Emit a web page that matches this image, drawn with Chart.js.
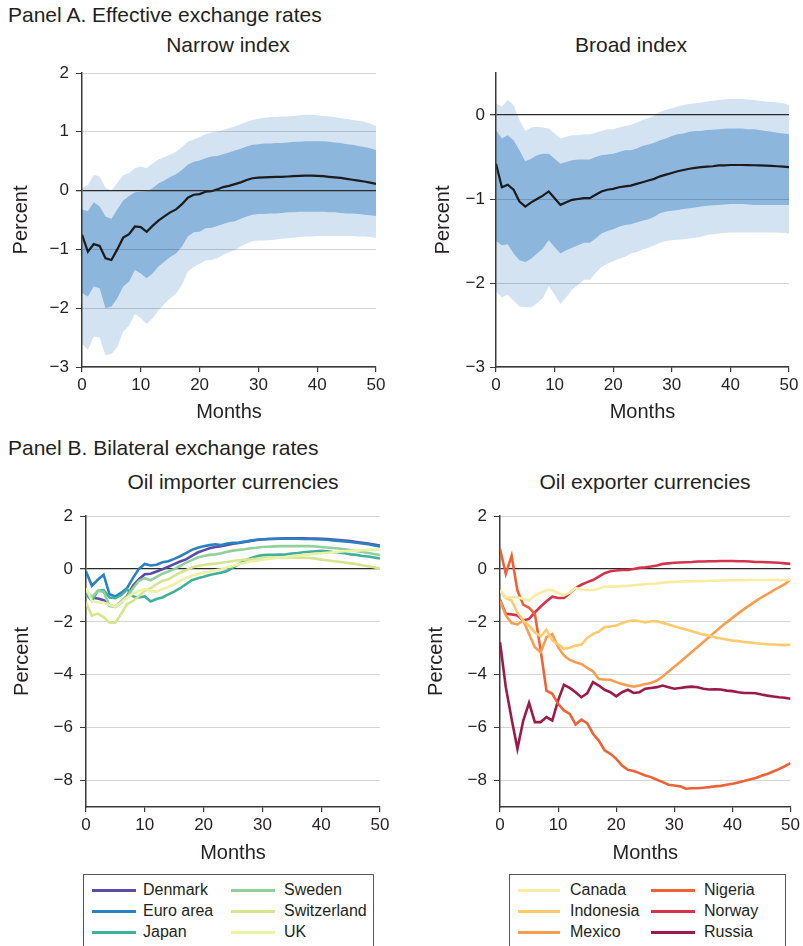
<!DOCTYPE html>
<html><head><meta charset="utf-8">
<script src="https://cdn.jsdelivr.net/npm/chart.js@4.4.1/dist/chart.umd.min.js"></script>
<style>
body{margin:0;background:#fff;width:803px;height:946px;overflow:hidden;position:relative;font-family:'Liberation Sans',Arial,sans-serif;color:#231f20}
.t{position:absolute;white-space:nowrap;font-size:21px;line-height:24px}
.c{transform:translateX(-50%)}
canvas{position:absolute}
.legend{position:absolute;border:1px solid #555;box-sizing:border-box;background:#fff}
.li{position:absolute;font-size:16px;line-height:18px;white-space:nowrap}
.sw{position:absolute;height:3px}
</style></head><body>
<div class="t" style="left:8px;top:3px">Panel A. Effective exchange rates</div>
<div class="t c" style="left:228px;top:33px">Narrow index</div>
<div class="t c" style="left:631px;top:33px">Broad index</div>
<div class="t" style="left:8px;top:436px">Panel B. Bilateral exchange rates</div>
<div class="t c" style="left:233px;top:470px">Oil importer currencies</div>
<div class="t c" style="left:645px;top:470px">Oil exporter currencies</div>
<canvas id="a1" width="400" height="375" style="left:0;top:55px"></canvas>
<canvas id="a2" width="403" height="375" style="left:400px;top:55px"></canvas>
<canvas id="b1" width="400" height="375" style="left:0;top:495px"></canvas>
<canvas id="b2" width="403" height="375" style="left:400px;top:495px"></canvas>
<div class="legend" id="leg1" style="left:83px;top:874px;width:291px;height:90px"></div>
<div class="legend" id="leg2" style="left:509px;top:874px;width:277px;height:90px"></div>
<script>
const months = [0,1,2,3,4,5,6,7,8,9,10,11,12,13,14,15,16,17,18,19,20,21,22,23,24,25,26,27,28,29,30,31,32,33,34,35,36,37,38,39,40,41,42,43,44,45,46,47,48,49,50];
const xTicks = [0,10,20,30,40,50];

// Panel A, narrow index
const narrowMid = [-0.75,-1.04,-0.91,-0.94,-1.15,-1.18,-1.0,-0.8,-0.74,-0.61, -0.62,-0.70,-0.60,-0.51,-0.44,-0.37,-0.32,-0.23,-0.12,-0.07, -0.06,-0.02,-0.01,0.02,0.06,0.08,0.11,0.14,0.18,0.21, 0.22,0.225,0.23,0.232,0.235,0.24,0.245,0.25,0.255,0.255, 0.25,0.245,0.235,0.225,0.215,0.20,0.185,0.17,0.155,0.135,0.115];
const narrowHi68 = [-0.32,-0.35,-0.2,-0.27,-0.44,-0.48,-0.32,-0.17,-0.09,-0.03, -0.02,-0.01,0.04,0.12,0.17,0.23,0.28,0.35,0.44,0.49, 0.51,0.55,0.58,0.59,0.62,0.65,0.68,0.71,0.75,0.78, 0.79,0.80,0.80,0.81,0.81,0.82,0.83,0.83,0.84,0.84, 0.84,0.84,0.83,0.82,0.81,0.79,0.78,0.76,0.74,0.72,0.69];
const narrowLo68 = [-1.74,-1.8,-1.63,-1.66,-2.0,-1.97,-1.83,-1.63,-1.55,-1.35, -1.41,-1.49,-1.41,-1.29,-1.21,-1.13,-1.07,-0.95,-0.78,-0.71, -0.70,-0.64,-0.63,-0.60,-0.57,-0.54,-0.52,-0.48,-0.44,-0.41, -0.40,-0.40,-0.39,-0.39,-0.38,-0.37,-0.37,-0.36,-0.36,-0.36, -0.36,-0.36,-0.37,-0.37,-0.38,-0.39,-0.39,-0.40,-0.41,-0.42,-0.43];
const narrowHi90 = [0.05,0.09,0.27,0.24,0.05,0.0,0.13,0.26,0.3,0.38, 0.41,0.38,0.46,0.53,0.57,0.61,0.66,0.74,0.83,0.87, 0.91,0.96,0.99,1.0,1.03,1.06,1.09,1.13,1.17,1.20, 1.22,1.24,1.25,1.25,1.26,1.26,1.27,1.28,1.29,1.29, 1.28,1.27,1.26,1.25,1.23,1.22,1.20,1.19,1.17,1.14,1.10];
const narrowLo90 = [-2.6,-2.71,-2.48,-2.5,-2.8,-2.78,-2.66,-2.4,-2.3,-2.10, -2.17,-2.27,-2.17,-2.04,-1.93,-1.83,-1.75,-1.60,-1.38,-1.30, -1.25,-1.19,-1.18,-1.15,-1.09,-1.05,-1.01,-0.95,-0.90,-0.86, -0.85,-0.85,-0.84,-0.83,-0.82,-0.81,-0.80,-0.79,-0.78,-0.78, -0.77,-0.77,-0.77,-0.77,-0.77,-0.77,-0.77,-0.78,-0.78,-0.79,-0.80];
const narrowTicks = [-3,-2,-1,0,1,2];

// Panel A, broad index
const broadMid = [-0.58,-0.86,-0.83,-0.89,-1.03,-1.09,-1.04,-1.0,-0.96,-0.91, -0.99,-1.07,-1.04,-1.01,-1.0,-0.99,-0.99,-0.95,-0.91,-0.89, -0.88,-0.86,-0.85,-0.84,-0.82,-0.80,-0.78,-0.76,-0.73,-0.71, -0.69,-0.67,-0.655,-0.64,-0.63,-0.62,-0.615,-0.61,-0.60,-0.60, -0.595,-0.595,-0.595,-0.597,-0.598,-0.60,-0.603,-0.606,-0.61,-0.615,-0.62];
const broadHi68 = [-0.18,-0.28,-0.24,-0.30,-0.42,-0.55,-0.52,-0.48,-0.46,-0.46, -0.52,-0.58,-0.56,-0.54,-0.53,-0.53,-0.53,-0.50,-0.48,-0.47, -0.46,-0.44,-0.42,-0.42,-0.40,-0.37,-0.35,-0.33,-0.30,-0.28, -0.25,-0.23,-0.22,-0.20,-0.19,-0.19,-0.18,-0.175,-0.17,-0.165, -0.16,-0.16,-0.16,-0.17,-0.17,-0.18,-0.19,-0.20,-0.21,-0.22,-0.23];
const broadLo68 = [-1.5,-1.55,-1.54,-1.65,-1.73,-1.75,-1.71,-1.65,-1.59,-1.49, -1.57,-1.65,-1.61,-1.58,-1.55,-1.52,-1.52,-1.47,-1.41,-1.38, -1.36,-1.33,-1.31,-1.30,-1.28,-1.26,-1.24,-1.21,-1.17,-1.15, -1.14,-1.13,-1.12,-1.11,-1.10,-1.09,-1.08,-1.075,-1.07,-1.065, -1.06,-1.06,-1.06,-1.065,-1.07,-1.07,-1.07,-1.07,-1.07,-1.07,-1.07];
const broadHi90 = [0.14,0.10,0.18,0.12,-0.06,-0.19,-0.15,-0.14,-0.15,-0.16, -0.22,-0.28,-0.26,-0.24,-0.24,-0.23,-0.23,-0.21,-0.19,-0.17, -0.17,-0.15,-0.13,-0.12,-0.09,-0.06,-0.04,-0.01,0.04,0.06, 0.08,0.10,0.12,0.13,0.14,0.15,0.16,0.17,0.18,0.185, 0.19,0.19,0.19,0.185,0.18,0.17,0.16,0.155,0.15,0.14,0.12];
const broadLo90 = [-2.1,-2.17,-2.14,-2.21,-2.28,-2.29,-2.29,-2.24,-2.18,-2.04, -2.14,-2.25,-2.17,-2.08,-2.02,-1.96,-1.96,-1.88,-1.81,-1.77, -1.74,-1.71,-1.69,-1.65,-1.63,-1.60,-1.58,-1.55,-1.52,-1.50, -1.49,-1.485,-1.48,-1.47,-1.46,-1.45,-1.43,-1.42,-1.41,-1.405, -1.40,-1.40,-1.40,-1.40,-1.40,-1.40,-1.40,-1.40,-1.40,-1.405,-1.41];
const broadTicks = [-3,-2,-1,0];

// Panel B, oil importer currencies
const importerNames = ['Denmark','Euro area','Japan','Sweden','Switzerland','UK'];
const importerColors = ['#5b4aa6','#2b80c3','#3fb09b','#8fd09d','#d4e58e','#eef0a3'];
const denmark = [-0.85,-1.08,-1.12,-1.18,-1.38,-1.43,-1.27,-1.02,-0.64,-0.39, -0.2,-0.18,-0.1,-0.01,0.08,0.18,0.28,0.36,0.49,0.62, 0.7,0.78,0.83,0.86,0.9,0.95,0.98,1.02,1.06,1.09, 1.11,1.13,1.14,1.15,1.16,1.16,1.16,1.16,1.15,1.15, 1.14,1.13,1.11,1.09,1.07,1.05,1.02,0.99,0.96,0.92,0.88];
const euroArea = [-0.10,-0.64,-0.41,-0.22,-0.96,-1.04,-0.9,-0.72,-0.34,0.0, 0.19,0.13,0.16,0.25,0.29,0.38,0.48,0.6,0.72,0.8, 0.86,0.9,0.93,0.9,0.96,0.99,1.0,1.03,1.07,1.1, 1.12,1.13,1.13,1.14,1.14,1.14,1.14,1.13,1.13,1.12, 1.11,1.1,1.08,1.06,1.04,1.02,0.99,0.96,0.93,0.89,0.85];
const japan = [-0.96,-1.21,-0.83,-0.8,-1.08,-1.11,-0.98,-0.77,-1.04,-1.08, -1.04,-1.23,-1.14,-1.08,-0.96,-0.86,-0.73,-0.58,-0.43,-0.35, -0.3,-0.23,-0.18,-0.14,-0.08,0.05,0.18,0.3,0.4,0.48, 0.52,0.53,0.53,0.54,0.55,0.58,0.6,0.63,0.65,0.67, 0.68,0.67,0.64,0.62,0.59,0.55,0.53,0.49,0.47,0.43,0.39];
const sweden = [-0.83,-1.08,-0.83,-0.86,-1.4,-1.43,-1.21,-1.04,-0.73,-0.45, -0.35,-0.43,-0.3,-0.18,-0.1,-0.01,0.11,0.24,0.33,0.43, 0.49,0.53,0.55,0.59,0.65,0.69,0.72,0.74,0.78,0.8, 0.83,0.84,0.85,0.86,0.86,0.86,0.86,0.86,0.86,0.85, 0.83,0.81,0.79,0.77,0.74,0.71,0.68,0.64,0.6,0.56,0.52];
const switzerland = [-1.27,-1.77,-1.69,-1.82,-2.03,-2.03,-1.69,-1.33,-1.21,-1.02, -0.83,-0.73,-0.58,-0.45,-0.39,-0.26,-0.14,-0.05,0.05,0.11, 0.15,0.18,0.2,0.23,0.26,0.3,0.33,0.35,0.36,0.38, 0.4,0.41,0.42,0.42,0.43,0.43,0.42,0.42,0.41,0.39, 0.35,0.33,0.3,0.27,0.24,0.21,0.18,0.14,0.1,0.06,0.01];
const uk = [-0.73,-1.21,-1.27,-1.27,-1.36,-1.43,-1.27,-1.08,-0.93,-0.83, -0.77,-0.83,-0.86,-0.77,-0.68,-0.58,-0.45,-0.35,-0.26,-0.2, -0.14,-0.1,-0.05,-0.01,0.05,0.11,0.18,0.23,0.28,0.31, 0.35,0.38,0.4,0.43,0.45,0.48,0.5,0.53,0.55,0.57, 0.59,0.61,0.63,0.65,0.67,0.68,0.69,0.71,0.72,0.73,0.73];

// Panel B, oil exporter currencies
const exporterNames = ['Canada','Indonesia','Mexico','Nigeria','Norway','Russia'];
const exporterColors = ['#f8eca2','#fdca6c','#f99c50','#ef6236','#d4334b','#9b1b48'];
const canada = [-0.8,-1.07,-1.07,-1.08,-1.13,-1.2,-1.0,-0.9,-0.8,-0.8, -0.92,-1.0,-0.9,-0.72,-0.78,-0.8,-0.8,-0.75,-0.67,-0.67, -0.66,-0.65,-0.64,-0.62,-0.6,-0.58,-0.56,-0.55,-0.52,-0.5, -0.49,-0.48,-0.47,-0.47,-0.46,-0.46,-0.45,-0.45,-0.44,-0.44, -0.43,-0.43,-0.43,-0.42,-0.42,-0.42,-0.42,-0.42,-0.42,-0.42,-0.42];
const indonesia = [-0.82,-1.1,-1.2,-1.65,-1.96,-2.15,-2.4,-2.55,-2.3,-2.7, -2.85,-3.02,-2.98,-2.9,-2.86,-2.61,-2.46,-2.37,-2.2,-2.18, -2.14,-2.05,-1.98,-1.95,-1.98,-2.02,-1.98,-1.98,-2.04,-2.1, -2.17,-2.23,-2.29,-2.36,-2.42,-2.48,-2.53,-2.58,-2.63,-2.67, -2.71,-2.73,-2.76,-2.78,-2.81,-2.83,-2.85,-2.86,-2.87,-2.88,-2.86];
const mexico = [-1.2,-1.76,-2.05,-2.1,-1.95,-2.46,-2.96,-3.15,-2.58,-2.46, -2.96,-3.27,-3.44,-3.53,-3.59,-3.74,-3.87,-4.16,-4.18,-4.19, -4.28,-4.35,-4.41,-4.45,-4.41,-4.35,-4.31,-4.22,-4.07,-3.88, -3.7,-3.52,-3.33,-3.14,-2.95,-2.76,-2.57,-2.38,-2.2,-2.02, -1.85,-1.68,-1.52,-1.37,-1.22,-1.08,-0.95,-0.82,-0.7,-0.58,-0.4];
const nigeria = [0.76,-0.19,0.5,-0.82,-1.35,-1.47,-1.7,-3.09,-4.6,-4.72, -5.1,-5.35,-5.48,-5.88,-5.7,-5.83,-6.23,-6.49,-6.86,-6.99, -7.18,-7.43,-7.59,-7.64,-7.72,-7.81,-7.87,-7.97,-8.06,-8.16, -8.19,-8.22,-8.31,-8.29,-8.29,-8.27,-8.25,-8.22,-8.2,-8.16, -8.12,-8.07,-8.02,-7.96,-7.9,-7.82,-7.75,-7.66,-7.57,-7.46,-7.34];
const norway = [-1.17,-1.7,-1.72,-1.76,-1.95,-1.89,-1.64,-1.42,-1.22,-1.05, -1.1,-1.1,-0.92,-0.72,-0.6,-0.5,-0.42,-0.29,-0.16,-0.09, -0.06,-0.04,-0.04,0.0,0.04,0.06,0.09,0.13,0.19,0.21, 0.23,0.24,0.25,0.26,0.28,0.28,0.29,0.29,0.3,0.3, 0.3,0.29,0.29,0.28,0.26,0.26,0.25,0.24,0.23,0.21,0.19];
const russia = [-2.77,-4.47,-5.67,-6.8,-5.73,-5.06,-5.79,-5.79,-5.6,-5.73, -4.97,-4.38,-4.5,-4.66,-4.85,-4.7,-4.28,-4.41,-4.57,-4.66, -4.82,-4.66,-4.57,-4.69,-4.66,-4.53,-4.5,-4.47,-4.41,-4.47, -4.53,-4.5,-4.47,-4.45,-4.47,-4.53,-4.56,-4.55,-4.56,-4.6, -4.62,-4.66,-4.69,-4.69,-4.7,-4.75,-4.79,-4.82,-4.85,-4.87,-4.91];
const bilateralTicks = [-8,-6,-4,-2,0,2];

const TXT = '#231f20', AX = '#3a3a3a', GRID = 'rgba(0,0,0,0.17)', ZERO = '#2a2a2a';
const LIGHT = '#d4e3f2', DARK = '#8cb6db';
const FONT = "'Liberation Sans', Arial, sans-serif";
Chart.defaults.font.family = FONT;
Chart.defaults.color = TXT;

function fmt(v){ return String(v).replace('-', '\u2212'); }

function scales(yMin, yMax, yTicks, o){
  return {
    x: {
      type: 'linear', min: 0, max: 50,
      afterBuildTicks: s => { s.ticks = xTicks.map(v => ({value: v})); },
      afterFit: s => { s.height = o.xH; },
      grid: {drawOnChartArea: false, drawTicks: true, tickLength: 5, tickColor: AX, lineWidth: 1.2, z: o.z},
      border: {color: AX, width: 1.5, z: o.z},
      ticks: {font: {size: 17}, color: TXT, padding: 3, maxRotation: 0, autoSkip: false},
      title: {display: true, text: 'Months', font: {size: 20}, color: TXT, padding: {top: 0, bottom: o.mPad}}
    },
    y: {
      type: 'linear', min: yMin, max: yMax,
      afterBuildTicks: s => { s.ticks = yTicks.map(v => ({value: v})); },
      afterFit: s => { s.width = o.yW; },
      grid: {
        color: c => (c.tick && c.tick.value === 0) ? ZERO : GRID,
        lineWidth: c => (c.tick && c.tick.value === 0) ? 1.3 : 1,
        tickColor: AX, tickLength: 6, drawTicks: true, z: o.z
      },
      border: {color: AX, width: 1.5, z: o.z},
      ticks: {font: {size: 17}, color: TXT, padding: o.tPad, callback: v => fmt(v)},
      title: {display: true, text: 'Percent', font: {size: 20}, color: TXT, padding: {top: o.pPad, bottom: 0}}
    }
  };
}

function make(id, datasets, yMin, yMax, yTicks, o){
  new Chart(document.getElementById(id), {
    type: 'line',
    data: {labels: months, datasets: datasets},
    options: {
      responsive: false, animation: false, devicePixelRatio: 1,
      layout: {padding: {top: o.top, right: o.right, left: 0, bottom: 0}},
      elements: {point: {radius: 0, hoverRadius: 0}, line: {tension: 0}},
      plugins: {legend: {display: false}, tooltip: {enabled: false}},
      events: [],
      scales: scales(yMin, yMax, yTicks, o)
    }
  });
}

const NONE = 'rgba(0,0,0,0)';
function bandSets(mid, hi68, lo68, hi90, lo90){
  return [
    {data: mid, borderColor: '#1b1b1b', borderWidth: 2.2, fill: false},
    {data: hi68, borderColor: NONE, borderWidth: 1, backgroundColor: DARK, fill: '+1'},
    {data: lo68, borderColor: NONE, borderWidth: 1, fill: false},
    {data: hi90, borderColor: NONE, borderWidth: 1, backgroundColor: LIGHT, fill: '+1'},
    {data: lo90, borderColor: NONE, borderWidth: 1, fill: false}
  ];
}
function lineSets(series, colors){
  return series.map((s, i) => ({data: s, borderColor: colors[i], borderWidth: 2.6, fill: false}));
}

make('a1', bandSets(narrowMid, narrowHi68, narrowLo68, narrowHi90, narrowLo90), -3, 2, narrowTicks,
  {top: 18, right: 24, xH: 63, yW: 82, mPad: 6, pPad: 9, tPad: 7, z: 1});
make('a2', bandSets(broadMid, broadHi68, broadLo68, broadHi90, broadLo90), -3, 0.5, broadTicks,
  {top: 18, right: 14, xH: 63, yW: 96, mPad: 6, pPad: 31, tPad: 5, z: 1});

const importerSeries = [denmark, euroArea, japan, sweden, switzerland, uk];
const exporterSeries = [canada, indonesia, mexico, nigeria, norway, russia];
make('b1', lineSets(importerSeries, importerColors).reverse(), -9, 2, bilateralTicks,
  {top: 21, right: 20, xH: 63, yW: 86, mPad: 5, pPad: 10, tPad: 7, z: -1});
make('b2', lineSets(exporterSeries, exporterColors), -9, 2, bilateralTicks,
  {top: 21, right: 11, xH: 63, yW: 100, mPad: 5, pPad: 24, tPad: 7, z: -1});

function legend(id, names, colors, cols){
  const el = document.getElementById(id);
  names.forEach((n, i) => {
    const col = Math.floor(i / 3), row = i % 3;
    const c = cols[col];
    const sw = document.createElement('div');
    sw.className = 'sw';
    sw.style.cssText = 'left:' + c.sw + 'px;top:' + (15 + row * 21 - 1.5) + 'px;width:' + c.w + 'px;background:' + colors[i];
    el.appendChild(sw);
    const t = document.createElement('div');
    t.className = 'li';
    t.style.cssText = 'left:' + c.tx + 'px;top:' + (15 + row * 21 - 9) + 'px';
    t.textContent = n;
    el.appendChild(t);
  });
}
legend('leg1', importerNames, importerColors, [{sw: 8, w: 44, tx: 59}, {sw: 147, w: 44, tx: 200}]);
legend('leg2', exporterNames, exporterColors, [{sw: 8, w: 42, tx: 60}, {sw: 141, w: 44, tx: 194}]);
</script>
</body></html>
